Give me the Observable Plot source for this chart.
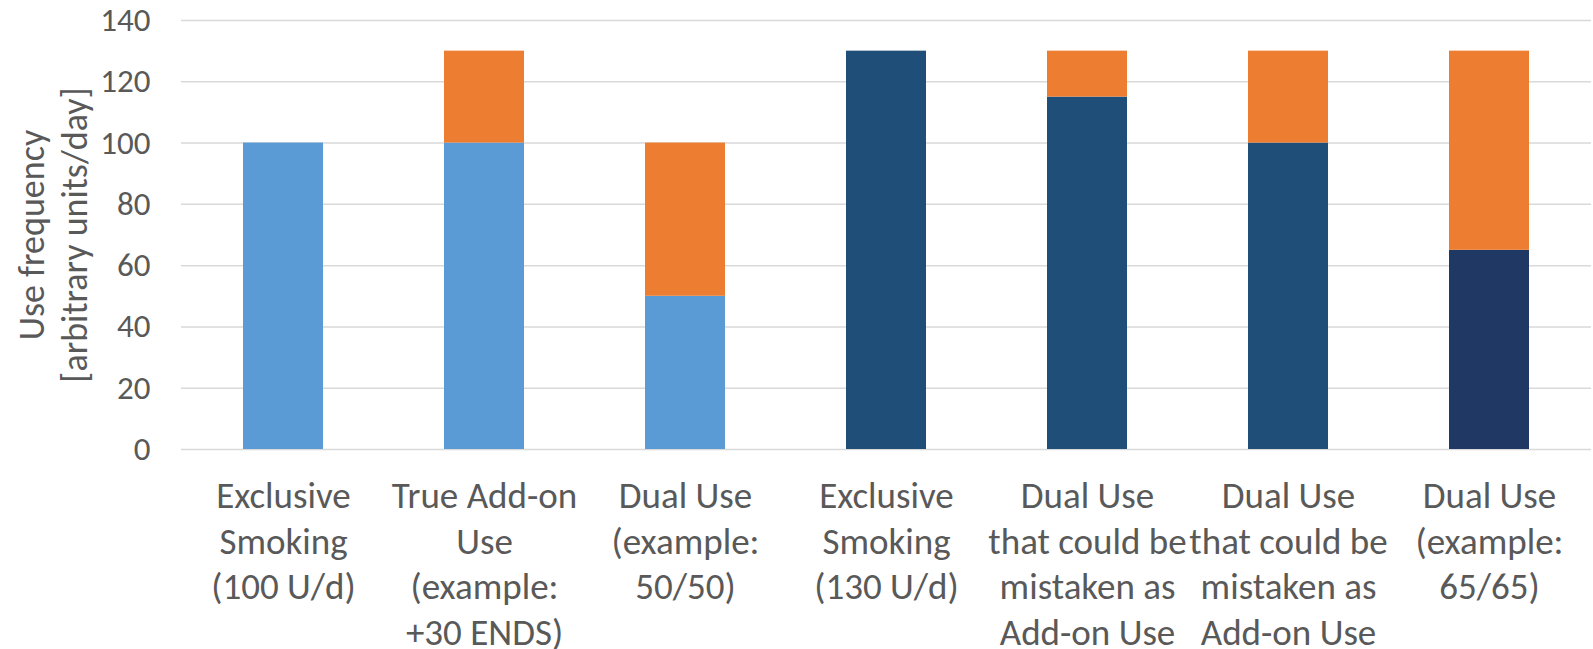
<!DOCTYPE html>
<html>
<head>
<meta charset="utf-8">
<script src="https://cdn.jsdelivr.net/npm/d3@7"></script>
<script src="https://cdn.jsdelivr.net/npm/@observablehq/plot@0.6"></script>
<style>
  html, body { margin: 0; padding: 0; background: #ffffff; }
</style>
</head>
<body>
<div id="chart"></div>
<script>
// Categories (unique keys) and their multi-line tick labels
const categoryKeys = ["c1", "c2", "c3", "c4", "c5", "c6", "c7"];
const categoryLabels = [
  "Exclusive\nSmoking\n(100 U/d)",
  "True Add-on\nUse\n(example:\n+30 ENDS)",
  "Dual Use\n(example:\n50/50)",
  "Exclusive\nSmoking\n(130 U/d)",
  "Dual Use\nthat could be\nmistaken as\nAdd-on Use",
  "Dual Use\nthat could be\nmistaken as\nAdd-on Use",
  "Dual Use\n(example:\n65/65)"
];
// Series values
const baseValues = [100, 100, 50, 130, 115, 100, 65];
const addOnValues = [0, 30, 50, 0, 15, 30, 65];
// Series colours
const baseColors = ["#5B9BD5", "#5B9BD5", "#5B9BD5", "#1F4E79", "#1F4E79", "#1F4E79", "#203864"];
const addOnColor = "#ED7D31";
// Y ticks
const yTicks = [0, 20, 40, 60, 80, 100, 120, 140];
const yTitle = "Use frequency\n[arbitrary units/day]";

const labelOf = new Map(categoryKeys.map((k, i) => [k, categoryLabels[i]]));

const rows = [
  ...categoryKeys.map((k, i) => ({key: k, series: "base", value: baseValues[i], color: baseColors[i]})),
  ...categoryKeys.map((k, i) => ({key: k, series: "add", value: addOnValues[i], color: addOnColor}))
].filter(d => d.value > 0);

const font = "Carlito, Calibri, Lato, 'Open Sans', sans-serif";

const chart = Plot.plot({
  width: 1593,
  height: 649,
  marginLeft: 181,
  marginRight: 2,
  marginTop: 20,
  marginBottom: 200,
  style: {fontFamily: font, fontSize: "34px", color: "#595959", background: "#ffffff"},
  x: {domain: categoryKeys, paddingInner: 0.6, paddingOuter: 0.3, axis: null},
  y: {domain: [0, 140], axis: null},
  marks: [
    Plot.gridY(yTicks, {stroke: "#d9d9d9", strokeOpacity: 1, strokeWidth: 1.5}),
    Plot.axisY(yTicks, {tickSize: 0, tickPadding: 31, fontSize: 33, label: null, fill: "#595959"}),
    Plot.axisX({tickSize: 0, tickPadding: 26, fontSize: 37, lineHeight: 1.235, label: null,
      tickFormat: k => labelOf.get(k), fill: "#595959"}),
    Plot.barY(rows, {x: "key", y: "value", z: "series", fill: "color"}),
    Plot.text([yTitle], {text: d => d, frameAnchor: "left", textAnchor: "middle", lineAnchor: "middle",
      dx: -130, rotate: -90, fontSize: 36, lineHeight: 1.2, fill: "#595959"})
  ]
});

document.getElementById("chart").appendChild(chart);
</script>
</body>
</html>
